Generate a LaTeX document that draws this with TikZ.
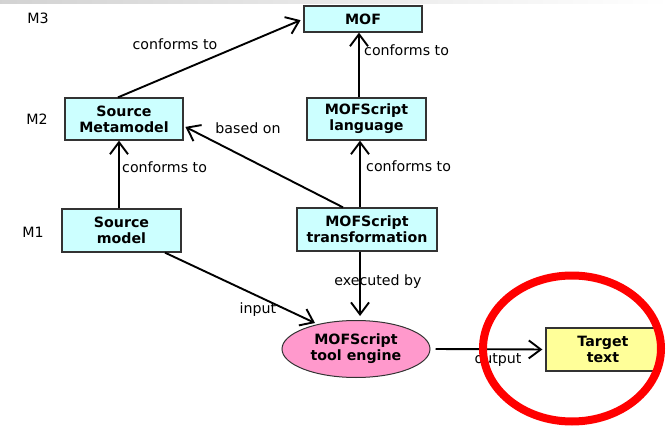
\documentclass[tikz,border=0pt]{standalone}
\usepackage{fontspec}
\setmainfont{DejaVu Sans}
\usetikzlibrary{arrows.meta,shapes.geometric,calc}
\definecolor{boxcyan}{HTML}{CCFFFF}
\definecolor{enginepink}{HTML}{FF99CC}
\definecolor{targetyellow}{HTML}{FFFF99}
\begin{document}
\begin{tikzpicture}[x=1pt,y=-1pt,
  box/.style={draw=black!80, line width=1.3pt, fill=boxcyan, align=center, inner sep=0pt, font=\fontsize{14.2}{16}\selectfont\bfseries},
  lbl/.style={font=\fontsize{14.2}{16}\selectfont, inner sep=0pt},
  arr/.style={line width=1.9pt, -{Straight Barb[length=12pt,width=18pt,line width=1.9pt]}},
]
\useasboundingbox (0,0) rectangle (670,428);
\fill[white] (0,0) rectangle (670,428);
\shade[left color=gray!35, right color=white] (0,0) rectangle (670,4);

% level labels
\node[lbl] (m3) at (38,18) {M3};
\node[lbl] (m2) at (37,119) {M2};
\node[lbl] (m1) at (33,232) {M1};

% boxes
\node[box, minimum width=118pt, minimum height=26pt] (mof) at (363,19) {MOF};
\node[box, minimum width=118pt, minimum height=42pt] (sm) at (124,119) {Source\\Metamodel};
\node[box, minimum width=119pt, minimum height=42pt] (ml) at (366.5,119) {MOFScript\\language};
\node[box, minimum width=119pt, minimum height=43pt] (smod) at (121.5,230.5) {Source\\model};
\node[box, minimum width=140pt, minimum height=43pt] (tr) at (367,229.5) {MOFScript\\transformation};
\node[ellipse, draw=black!80, line width=1pt, fill=enginepink, minimum width=148pt, minimum height=57pt, inner sep=0pt, align=center, font=\fontsize{14.2}{16}\selectfont\bfseries] (eng) at (356,349) {MOFScript\\tool engine};
\node[box, fill=targetyellow, minimum width=114pt, minimum height=43pt] (tt) at (603,349.5) {Target\\text};

% connectors
\draw[arr, shorten >=3pt] ([xshift=-6pt]sm.north) -- (mof.west);
\draw[arr] ([xshift=-7.5pt]ml.north) -- ([xshift=-7.5pt]ml.north |- mof.south);
\draw[arr] ([xshift=-2.5pt]smod.north) -- ([xshift=-2.5pt]smod.north |- sm.south);
\draw[arr] ([xshift=-7pt]tr.north) -- ([xshift=-7pt]tr.north |- ml.south);
\draw[arr, shorten >=2pt] ([xshift=-24pt]tr.north) -- ([yshift=-7pt]sm.east);
\draw[arr, shorten >=4pt] ([xshift=-7pt]tr.south) -- ([xshift=-7pt]tr.south |- eng.north);
\coordinate (engin) at ($(eng.center)+(-41,-26)$);
\draw[arr] ([xshift=43.5pt]smod.south) -- (engin);
\draw[arr, shorten >=3pt] ([xshift=5pt]eng.east) -- (tt.west);

% connector labels
\node[lbl] (l1) at (175,44) {conforms to};
\node[lbl, anchor=west] (l2) at (364,50) {conforms to};
\node[lbl] (l3) at (248,128) {based on};
\node[lbl, anchor=west] (l4) at (122,167) {conforms to};
\node[lbl, anchor=west] (l5) at (366,166) {conforms to};
\node[lbl] (l6) at (378,282) {executed by};
\node[lbl] (l7) at (258,310) {input};
\node[lbl] (l8) at (498,360) {output};

% highlight
\draw[red, line width=8pt] (572,348.5) ellipse [x radius=89, y radius=73];
\end{tikzpicture}
\end{document}
